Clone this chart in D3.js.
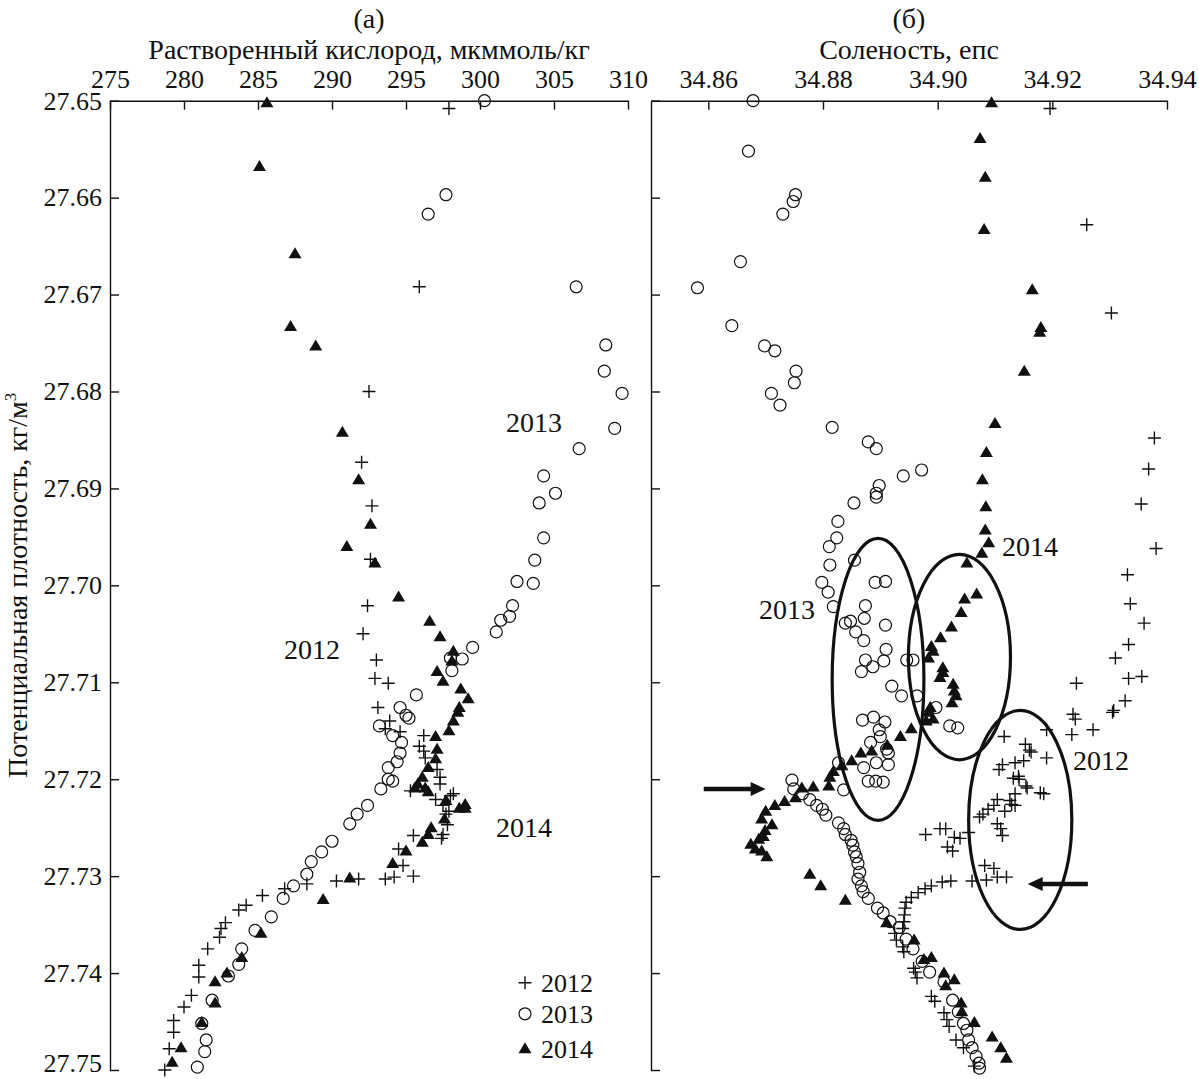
<!DOCTYPE html>
<html>
<head>
<meta charset="utf-8">
<script src="https://cdn.jsdelivr.net/npm/d3@7"></script>
<style>
  body { margin: 0; background: #fff; }
  text { font-family: "Liberation Serif", "DejaVu Serif", serif; fill: #111; }
</style>
</head>
<body>
<svg id="chart" width="1199" height="1079"></svg>
<script>
// tick labels
const densTicks = [27.65, 27.66, 27.67, 27.68, 27.69, 27.70, 27.71, 27.72, 27.73, 27.74, 27.75]
const oxyTicks = [275, 280, 285, 290, 295, 300, 305, 310]
const salTicks = [34.86, 34.88, 34.90, 34.92, 34.94]
const years = ["2012", "2013", "2014"]

// (а) dissolved oxygen vs potential density  [O2, sigma]
const oxy2012 = [[297.9,27.6508],[295.9,27.6692],[292.5,27.6800],[292.0,27.6873],[292.7,27.6918],[292.6,27.6973],[292.4,27.7021],[292.1,27.7050],[293.0,27.7077],[292.9,27.7096],[293.8,27.7101],[293.1,27.7126],[293.9,27.7140],[293.6,27.7148],[294.6,27.7151],[296.2,27.7155],[295.9,27.7166],[296.2,27.7171],[296.3,27.7178],[297.1,27.7190],[297.3,27.7198],[297.3,27.7205],[295.3,27.7212],[298.2,27.7215],[298.0,27.7217],[297.0,27.7221],[297.5,27.7227],[297.9,27.7233],[297.7,27.7236],[297.8,27.7247],[295.5,27.7258],[297.5,27.7257],[297.4,27.7261],[294.5,27.7272],[294.8,27.7289],[293.6,27.7303],[294.2,27.7301],[295.5,27.7300],[291.8,27.7303],[290.3,27.7305],[288.3,27.7308],[286.8,27.7313],[285.3,27.7320],[284.2,27.7330],[283.7,27.7335],[282.8,27.7348],[282.5,27.7354],[282.4,27.7363],[281.6,27.7375],[281.0,27.7392],[281.0,27.7404],[280.5,27.7423],[280.0,27.7435],[279.3,27.7449],[279.3,27.7461],[279.0,27.7478],[278.7,27.7500]]
const oxy2013 = [[300.3,27.6500],[297.7,27.6597],[296.5,27.6617],[306.5,27.6692],[308.5,27.6752],[308.4,27.6779],[309.6,27.6802],[309.1,27.6838],[306.7,27.6859],[304.3,27.6887],[305.1,27.6905],[304.0,27.6915],[304.3,27.6951],[303.7,27.6974],[302.5,27.6996],[303.6,27.6998],[302.2,27.7021],[302.0,27.7032],[301.4,27.7036],[301.1,27.7048],[299.5,27.7064],[298.8,27.7076],[298.0,27.7075],[298.1,27.7088],[295.7,27.7113],[294.6,27.7126],[295.0,27.7134],[295.2,27.7137],[293.2,27.7145],[294.1,27.7155],[294.7,27.7162],[294.6,27.7173],[294.4,27.7182],[293.8,27.7188],[293.8,27.7200],[294.1,27.7202],[293.3,27.7210],[292.4,27.7227],[291.7,27.7236],[291.2,27.7246],[290.0,27.7264],[289.3,27.7275],[288.6,27.7285],[288.3,27.7298],[287.4,27.7310],[286.7,27.7323],[285.9,27.7342],[284.8,27.7356],[283.9,27.7375],[283.7,27.7391],[283.0,27.7403],[281.9,27.7428],[281.2,27.7452],[281.5,27.7469],[281.4,27.7481],[280.9,27.7497]]
const oxy2014 = [[285.6,27.6502],[285.1,27.6568],[287.5,27.6658],[287.2,27.6733],[288.9,27.6753],[290.7,27.6842],[291.8,27.6891],[292.6,27.6937],[291.0,27.6960],[292.9,27.6977],[294.5,27.7012],[296.6,27.7037],[297.3,27.7053],[298.2,27.7068],[298.1,27.7078],[297.1,27.7089],[297.5,27.7099],[298.7,27.7107],[299.2,27.7117],[298.6,27.7126],[298.5,27.7131],[298.2,27.7140],[297.9,27.7150],[297.0,27.7156],[297.1,27.7169],[297.0,27.7179],[296.5,27.7188],[296.1,27.7198],[295.8,27.7205],[296.3,27.7209],[295.6,27.7209],[296.5,27.7213],[297.7,27.7222],[299.0,27.7226],[298.6,27.7230],[299.0,27.7230],[297.6,27.7241],[296.7,27.7250],[296.5,27.7257],[296.1,27.7265],[295.0,27.7274],[294.1,27.7287],[291.2,27.7302],[289.4,27.7324],[285.2,27.7359],[283.9,27.7384],[282.9,27.7400],[282.1,27.7409],[282.1,27.7431],[281.2,27.7451],[279.8,27.7477],[279.2,27.7492]]

// (б) salinity vs potential density  [S, sigma]
const sal2012 = [[34.9196,27.6508],[34.9260,27.6628],[34.9303,27.6719],[34.9378,27.6848],[34.9368,27.6880],[34.9355,27.6916],[34.9381,27.6962],[34.9331,27.6989],[34.9336,27.7019],[34.9360,27.7039],[34.9333,27.7061],[34.9310,27.7075],[34.9333,27.7096],[34.9356,27.7094],[34.9327,27.7119],[34.9307,27.7129],[34.9305,27.7131],[34.9242,27.7101],[34.9236,27.7133],[34.9240,27.7138],[34.9234,27.7154],[34.9271,27.7149],[34.9190,27.7149],[34.9116,27.7156],[34.9153,27.7164],[34.9160,27.7170],[34.9190,27.7178],
  [34.9107,27.7190],[34.9113,27.7185],[34.9135,27.7183],[34.9150,27.7181],[34.9163,27.7172],[34.9142,27.7200],[34.9154,27.7207],[34.9135,27.7215],[34.9126,27.7222],[34.9104,27.7221],[34.9098,27.7227],[34.9088,27.7231],[34.9079,27.7236],[34.9073,27.7239],[34.9117,27.7233],[34.9104,27.7246],[34.9110,27.7251],[34.9113,27.7258],[34.9185,27.7215],[34.9129,27.7226],[34.9135,27.7227],[34.9132,27.7199],[34.9141,27.7197],[34.9156,27.7209],[34.9179,27.7214],
  [34.8979,27.7257],[34.9004,27.7251],[34.9014,27.7251],[34.9029,27.7260],[34.9039,27.7261],[34.9017,27.7270],[34.9026,27.7274],[34.9054,27.7255],
  [34.9082,27.7289],[34.9098,27.7292],[34.9120,27.7301],[34.9104,27.7301],[34.9085,27.7304],[34.9060,27.7305],[34.9023,27.7305],[34.9008,27.7306],[34.8989,27.7310],[34.8978,27.7313],[34.8966,27.7317],[34.8954,27.7322],[34.8945,27.7327],[34.8943,27.7333],[34.8942,27.7340],[34.8941,27.7347],[34.8939,27.7354],[34.8925,27.7359],[34.8928,27.7366],[34.8939,27.7373],[34.8941,27.7378],[34.8958,27.7395],[34.8961,27.7399],[34.8964,27.7405],[34.8989,27.7424],[34.8995,27.7429],[34.9011,27.7441],[34.9016,27.7448],[34.9020,27.7455],[34.9032,27.7469],[34.9045,27.7477],[34.9064,27.7496]]
const sal2013 = [[34.8678,27.6500],[34.8670,27.6552],[34.8752,27.6597],[34.8748,27.6604],[34.8730,27.6617],[34.8656,27.6666],[34.8581,27.6693],[34.8641,27.6732],[34.8698,27.6753],[34.8716,27.6758],[34.8753,27.6779],[34.8750,27.6791],[34.8710,27.6802],[34.8725,27.6814],[34.8816,27.6837],[34.8879,27.6852],[34.8893,27.6859],[34.8972,27.6881],[34.8940,27.6887],[34.8898,27.6897],[34.8893,27.6905],[34.8893,27.6909],[34.8854,27.6915],[34.8826,27.6934],[34.8824,27.6951],[34.8811,27.6960],[34.8855,27.6974],[34.8812,27.6979],[34.8798,27.6997],[34.8809,27.7007],[34.8891,27.6997],[34.8909,27.6996],[34.8818,27.7022],[34.8874,27.7021],[34.8872,27.7034],[34.8839,27.7039],[34.8848,27.7037],[34.8909,27.7041],[34.8857,27.7048],[34.8871,27.7057],[34.8910,27.7066],[34.8874,27.7077],[34.8887,27.7084],[34.8906,27.7078],[34.8867,27.7089],[34.8946,27.7077],[34.8957,27.7077],[34.8920,27.7104],[34.8937,27.7114],[34.8964,27.7114],[34.8997,27.7126],[34.9021,27.7145],[34.9035,27.7147],[34.8869,27.7139],[34.8888,27.7136],[34.8908,27.7141],[34.8898,27.7149],[34.8900,27.7156],[34.8883,27.7162],[34.8911,27.7169],[34.8914,27.7173],[34.8893,27.7183],[34.8914,27.7185],[34.8871,27.7188],[34.8827,27.7183],[34.8879,27.7202],[34.8892,27.7202],[34.8905,27.7203],[34.8836,27.7211],
  [34.8746,27.7201],[34.8749,27.7210],[34.8764,27.7215],[34.8777,27.7221],[34.8789,27.7227],[34.8799,27.7231],[34.8805,27.7237],[34.8827,27.7245],[34.8836,27.7251],[34.8839,27.7257],[34.8849,27.7263],[34.8852,27.7268],[34.8855,27.7275],[34.8858,27.7280],[34.8861,27.7287],[34.8864,27.7296],[34.8861,27.7303],[34.8867,27.7310],[34.8870,27.7316],[34.8879,27.7323],[34.8895,27.7333],[34.8905,27.7338],[34.8917,27.7347],[34.8933,27.7353],[34.8945,27.7365],[34.8957,27.7375],[34.8973,27.7388],[34.8986,27.7399],[34.9011,27.7409],[34.9026,27.7428],[34.9036,27.7440],[34.9045,27.7452],[34.9051,27.7459],[34.9054,27.7469],[34.9060,27.7477],[34.9067,27.7486],[34.9072,27.7493],[34.9073,27.7498]]
const sal2014 = [[34.9094,27.6502],[34.9074,27.6539],[34.9083,27.6579],[34.9081,27.6633],[34.9165,27.6695],[34.9180,27.6734],[34.9178,27.6739],[34.9151,27.6779],[34.9100,27.6833],[34.9085,27.6863],[34.9078,27.6891],[34.9084,27.6919],[34.9083,27.6943],[34.9089,27.6956],[34.9077,27.6967],[34.9051,27.6977],[34.9068,27.7009],[34.9047,27.7014],[34.9041,27.7028],[34.9024,27.7043],[34.9005,27.7054],[34.8989,27.7063],[34.8992,27.7068],[34.8984,27.7075],[34.9009,27.7085],[34.9009,27.7090],[34.9004,27.7095],[34.9027,27.7102],[34.9029,27.7109],[34.9032,27.7114],[34.9025,27.7121],[34.8987,27.7126],[34.8984,27.7131],[34.8992,27.7138],[34.8980,27.7140],[34.8954,27.7148],[34.8935,27.7156],[34.8912,27.7165],[34.8885,27.7171],[34.8866,27.7173],[34.8850,27.7181],[34.8833,27.7186],[34.8818,27.7192],[34.8812,27.7198],[34.8810,27.7207],[34.8783,27.7208],[34.8763,27.7209],[34.8752,27.7219],[34.8733,27.7223],[34.8716,27.7227],[34.8700,27.7233],[34.8693,27.7241],[34.8711,27.7247],[34.8699,27.7253],[34.8696,27.7259],[34.8688,27.7262],[34.8674,27.7267],[34.8682,27.7272],[34.8693,27.7274],[34.8702,27.7280],[34.8777,27.7298],[34.8796,27.7310],[34.8839,27.7325],[34.8911,27.7348],[34.8959,27.7366],[34.8976,27.7386],[34.8989,27.7384],[34.9011,27.7400],[34.9029,27.7407],[34.9014,27.7413],[34.9041,27.7431],[34.9042,27.7440],[34.9064,27.7451],[34.9095,27.7466],[34.9110,27.7477],[34.9120,27.7488]]

const svg = d3.select("#chart")
const ink = "#111"

const y = d3.scaleLinear().domain([27.65, 27.75]).range([100.7, 1070])
const xOxy = d3.scaleLinear().domain([275, 310]).range([110, 628])
const xSal = d3.scaleLinear().domain([34.85, 34.94]).range([651, 1167])

// axes: only top and left, ticks pointing inward
const axes = (x, ticks, fmt, labelsY) => {
    const top = svg.append("g")
        .attr("transform", "translate(0," + y.range()[0] + ")")
        .call(d3.axisTop(x).tickValues(ticks).tickFormat(fmt)
            .tickSize(-9).tickSizeOuter(0).tickPadding(13))
    const left = svg.append("g")
        .attr("transform", "translate(" + x.range()[0] + ",0)")
        .call(d3.axisLeft(y).tickValues(densTicks)
            .tickFormat(labelsY ? d3.format(".2f") : () => "")
            .tickSize(-9).tickSizeOuter(0).tickPadding(8))
    ;[top, left].forEach(g => {
        g.attr("font-size", 26).attr("font-family", "Liberation Serif")
        g.selectAll("path, line").attr("stroke", ink).attr("stroke-width", 1.4)
        g.selectAll("text").attr("fill", ink)
    })
    // last density label sits on the bottom edge
    left.selectAll(".tick:last-of-type text").attr("dy", "0.06em")
}
axes(xOxy, oxyTicks, d3.format("d"), true)
axes(xSal, salTicks, d3.format(".2f"), false)

// titles
const title = (x, txt, yy) => svg.append("text")
    .attr("x", x).attr("y", yy).attr("text-anchor", "middle")
    .attr("font-size", 28).text(txt)
const midA = d3.mean(xOxy.range()), midB = d3.mean(xSal.range())
title(midA, "(а)", 28)
title(midA, "Растворенный кислород, мкммоль/кг", 59)
title(midB, "(б)", 28)
title(midB, "Соленость, епс", 59)

const yt = svg.append("text")
    .attr("transform", "translate(27," + d3.mean(y.range()) + ") rotate(-90)")
    .attr("text-anchor", "middle").attr("font-size", 28)
yt.append("tspan").text("Потенциальная плотность, кг/м")
yt.append("tspan").attr("font-size", 17).attr("dy", -11).text("3")

// markers
const plusPath = "M-6.5,0H6.5M0,-6.5V6.5"
const triPath = "M0,-6.5L6.5,4.5L-6.5,4.5Z"
const drawSeries = (x, data, kind) => {
    const g = svg.append("g")
    const sel = g.selectAll("path").data(data).join("path")
        .attr("transform", d => "translate(" + x(d[0]) + "," + y(d[1]) + ")")
    if (kind === "2012") sel.attr("d", plusPath).attr("stroke", ink).attr("stroke-width", 1.4).attr("fill", "none")
    if (kind === "2013") sel.attr("d", d3.symbol(d3.symbolCircle, 113)()).attr("stroke", ink).attr("stroke-width", 1.2).attr("fill", "none")
    if (kind === "2014") sel.attr("d", triPath).attr("fill", ink)
}
drawSeries(xOxy, oxy2013, "2013")
drawSeries(xOxy, oxy2012, "2012")
drawSeries(xOxy, oxy2014, "2014")
drawSeries(xSal, sal2013, "2013")
drawSeries(xSal, sal2012, "2012")
drawSeries(xSal, sal2014, "2014")

// year labels
const label = (x, v, d, txt) => svg.append("text")
    .attr("x", x(v)).attr("y", y(d)).attr("dy", "0.35em")
    .attr("text-anchor", "middle").attr("font-size", 28).text(txt)
label(xOxy, 303.65, 27.6832, "2013")
label(xOxy, 288.65, 27.7066, "2012")
label(xOxy, 302.97, 27.7250, "2014")
label(xSal, 34.8737, 27.7025, "2013")
label(xSal, 34.9161, 27.6960, "2014")
label(xSal, 34.9285, 27.7180, "2012")

// legend
const legY = [27.7410, 27.7442, 27.7478]
years.forEach((yr, i) => {
    const ly = y(legY[i]), lx = xOxy(303.04)
    drawSeries(() => lx, [[0, legY[i]]], yr)
    svg.append("text").attr("x", lx + 16).attr("y", ly).attr("dy", "0.35em")
        .attr("font-size", 26).text(yr)
})

// ellipses in panel (б)
const ellipses = [
    {cx: 34.8896, cy: 27.7097, rx: 0.0080, ry: 0.01455},
    {cx: 34.9038, cy: 27.7074, rx: 0.0089, ry: 0.0106},
    {cx: 34.9144, cy: 27.7242, rx: 0.0090, ry: 0.0113}
]
svg.append("g").selectAll("ellipse").data(ellipses).join("ellipse")
    .attr("cx", d => xSal(d.cx)).attr("cy", d => y(d.cy))
    .attr("rx", d => xSal(d.cx + d.rx) - xSal(d.cx))
    .attr("ry", d => y(d.cy + d.ry) - y(d.cy))
    .attr("fill", "none").attr("stroke", ink).attr("stroke-width", 3.2)

// arrows
const arrows = [
    {from: 34.8592, to: 34.8700, at: 27.7210},
    {from: 34.9262, to: 34.9157, at: 27.7308}
]
arrows.forEach(a => {
    const x0 = xSal(a.from), x1 = xSal(a.to), yy = y(a.at)
    const dir = Math.sign(x1 - x0)
    svg.append("line").attr("x1", x0).attr("x2", x1 - dir * 12)
        .attr("y1", yy).attr("y2", yy).attr("stroke", ink).attr("stroke-width", 4.5)
    svg.append("path")
        .attr("d", "M" + x1 + "," + yy + "L" + (x1 - dir * 15) + "," + (yy - 7) + "L" + (x1 - dir * 15) + "," + (yy + 7) + "Z")
        .attr("fill", ink)
})
</script>
</body>
</html>
